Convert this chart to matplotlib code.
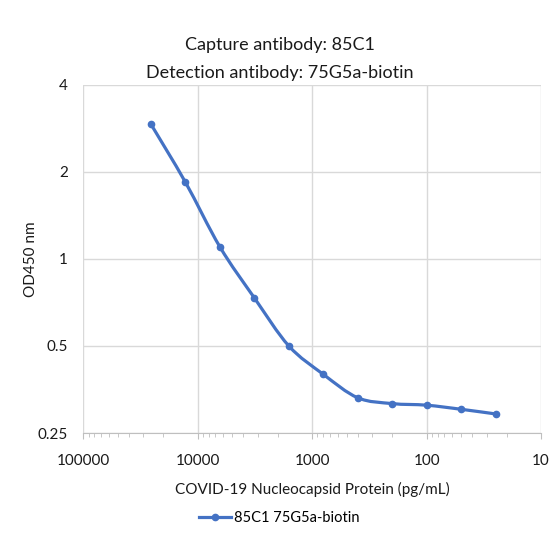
import matplotlib.pyplot as plt
import numpy as np
from matplotlib.path import Path
from matplotlib.patches import PathPatch
from matplotlib.ticker import FixedLocator, FixedFormatter, LogLocator, NullFormatter
from matplotlib.lines import Line2D

plt.rcParams['font.family'] = ['Lato', 'DejaVu Sans']

# Data
conc = [25600, 12800, 6400, 3200, 1600, 800, 400, 200, 100, 50, 25]
od450 = [2.92, 1.84, 1.10, 0.733, 0.50, 0.399, 0.331, 0.316, 0.312, 0.302, 0.291]
series_name = '85C1 75G5a-biotin'
y_ticks = [0.25, 0.5, 1, 2, 4]
y_labels = ['0.25', '0.5', '1', '2', '4']
x_ticks = [100000, 10000, 1000, 100, 10]
x_labels = ['100000', '10000', '1000', '100', '10']

blue = '#4472c4'
grid_c = '#d9d9d9'
txt_c = '#1a1a1a'

fig = plt.figure(figsize=(5.59, 5.58), dpi=100)
ax = fig.add_axes([0.149, 0.224, 0.819, 0.624])

ax.set_xscale('log')
ax.set_yscale('log', base=2)
ax.set_xlim(100000, 10)
ax.set_ylim(0.25, 4)

# smooth line (Excel-style), bezier through the points in log space
lx = np.log10(conc)
ly = np.log2(od450)
n = len(lx)
t = 1.0 / 6
verts = [(conc[0], od450[0])]
codes = [Path.MOVETO]
for i in range(n - 1):
    p0 = max(i - 1, 0)
    p3 = min(i + 2, n - 1)
    c1x = lx[i] + (lx[i + 1] - lx[p0]) * t
    c1y = ly[i] + (ly[i + 1] - ly[p0]) * t
    c2x = lx[i + 1] - (lx[p3] - lx[i]) * t
    c2y = ly[i + 1] - (ly[p3] - ly[i]) * t
    verts += [(10 ** c1x, 2 ** c1y), (10 ** c2x, 2 ** c2y), (conc[i + 1], od450[i + 1])]
    codes += [Path.CURVE4] * 3
ax.add_patch(PathPatch(Path(verts, codes), facecolor='none', edgecolor=blue, lw=2.3, zorder=3))
ax.plot(conc, od450, 'o', color=blue, ms=4.5, zorder=4)

ax.yaxis.set_major_locator(FixedLocator(y_ticks))
ax.yaxis.set_major_formatter(FixedFormatter(y_labels))
ax.yaxis.set_minor_locator(FixedLocator([]))
ax.xaxis.set_major_locator(FixedLocator(x_ticks))
ax.xaxis.set_major_formatter(FixedFormatter(x_labels))
ax.xaxis.set_minor_locator(LogLocator(base=10, subs=np.arange(2, 10)))
ax.xaxis.set_minor_formatter(NullFormatter())

ax.grid(True, which='major', color=grid_c, lw=1)
ax.set_axisbelow(True)
for s in ['top', 'right', 'left']:
    ax.spines[s].set_visible(False)
ax.spines['bottom'].set_color('#bfbfbf')
ax.tick_params(axis='y', length=0, labelsize=11, pad=11, labelcolor=txt_c)
ax.tick_params(axis='x', which='major', length=4, color='#bfbfbf', labelsize=11,
               pad=11, labelcolor=txt_c)
ax.tick_params(axis='x', which='minor', length=3, color='#bfbfbf')

ax.set_xlabel('COVID-19 Nucleocapsid Protein (pg/mL)', fontsize=11, labelpad=10, color=txt_c)
ax.set_ylabel('OD450 nm', fontsize=11, labelpad=0, color=txt_c)

fig.text(0.5, 0.919, 'Capture antibody: 85C1', ha='center', va='center', fontsize=13, color=txt_c)
fig.text(0.5, 0.869, 'Detection antibody: 75G5a-biotin', ha='center', va='center', fontsize=13, color=txt_c)

handle = Line2D([], [], color=blue, lw=2.3, marker='o', ms=4.5)
fig.legend([handle], [series_name], loc='center', bbox_to_anchor=(0.5, 0.072),
           frameon=False, fontsize=10.5, handlelength=2.2, handletextpad=0.2)

fig.savefig('out.png', dpi=100)
